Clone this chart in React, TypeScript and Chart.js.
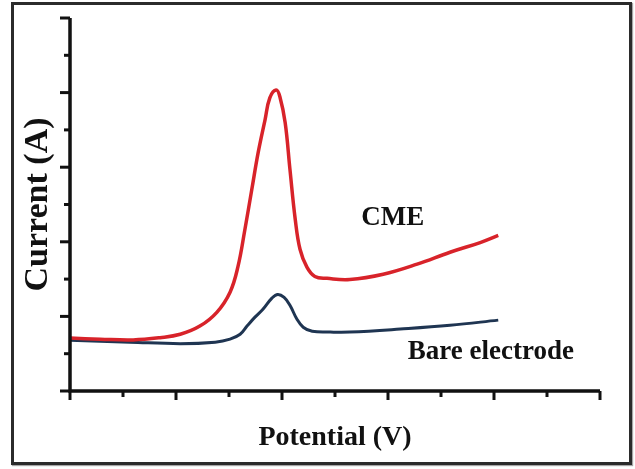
import React, { useEffect, useRef } from 'react';
import { Chart, registerables } from 'chart.js';

Chart.register(...registerables);

// Potential (x, arbitrary units 0..10) and current (y, arbitrary units 0..10)
const potentialCME = [0, 0.57, 1.19, 1.7, 2.08, 2.45, 2.77, 3.02, 3.17, 3.3, 3.43, 3.55, 3.68, 3.77, 3.89, 3.96, 4.06, 4.15, 4.25, 4.34, 4.47, 4.62, 4.85, 5.28, 5.91, 6.55, 7.17, 7.74, 8.08];
const currentCME = [1.42, 1.39, 1.37, 1.43, 1.52, 1.74, 2.11, 2.65, 3.34, 4.33, 5.4, 6.39, 7.27, 7.86, 8.07, 7.89, 7.19, 5.94, 4.6, 3.8, 3.32, 3.07, 3.02, 2.99, 3.13, 3.4, 3.72, 3.98, 4.17];

const potentialBare = [0, 1.13, 2.08, 2.74, 3.02, 3.21, 3.34, 3.49, 3.64, 3.81, 3.92, 4.04, 4.15, 4.28, 4.4, 4.57, 4.91, 5.28, 6.23, 7.17, 8.08];
const currentBare = [1.36, 1.31, 1.27, 1.31, 1.39, 1.52, 1.74, 1.98, 2.19, 2.49, 2.59, 2.51, 2.3, 1.93, 1.71, 1.6, 1.58, 1.58, 1.66, 1.76, 1.9];

const xTicks = [0, 1, 2, 3, 4, 5, 6, 7, 8, 9, 10];
const yTicks = [0, 1, 2, 3, 4, 5, 6, 7, 8, 9, 10];

const labelTexts = ['CME', 'Bare electrode'];
const labelX = [6.09, 7.94];
const labelY = [4.65, 1.04];

const SERIF = '"Liberation Serif", "Times New Roman", serif';

const axesPlugin = {
  id: 'axesAndLabels',
  afterDatasetsDraw(chart: any) {
    const { ctx, chartArea, scales } = chart;
    const x = scales.x;
    const y = scales.y;
    ctx.save();
    ctx.strokeStyle = '#111';
    ctx.lineCap = 'butt';
    ctx.lineWidth = 3.5;
    ctx.beginPath();
    ctx.moveTo(chartArea.left, chartArea.top);
    ctx.lineTo(chartArea.left, chartArea.bottom);
    ctx.lineTo(chartArea.right, chartArea.bottom);
    ctx.stroke();
    ctx.lineWidth = 3;
    yTicks.forEach((v) => {
      const py = y.getPixelForValue(v);
      const len = v % 2 === 0 ? 10 : 6;
      ctx.beginPath();
      ctx.moveTo(chartArea.left, py);
      ctx.lineTo(chartArea.left - len, py);
      ctx.stroke();
    });
    xTicks.forEach((v) => {
      const px = x.getPixelForValue(v);
      const len = v % 2 === 0 ? 9 : 6;
      ctx.beginPath();
      ctx.moveTo(px, chartArea.bottom);
      ctx.lineTo(px, chartArea.bottom + len);
      ctx.stroke();
    });
    ctx.fillStyle = '#111';
    ctx.font = `bold 27px ${SERIF}`;
    ctx.textAlign = 'center';
    ctx.textBaseline = 'middle';
    labelTexts.forEach((t, i) => {
      ctx.fillText(t, x.getPixelForValue(labelX[i]), y.getPixelForValue(labelY[i]));
    });
    ctx.restore();
  },
};

export default function App() {
  const ref = useRef<HTMLCanvasElement>(null);
  useEffect(() => {
    if (!ref.current) return;
    const chart = new Chart(ref.current, {
      type: 'line',
      data: {
        datasets: [
          {
            label: 'CME',
            data: potentialCME.map((p, i) => ({ x: p, y: currentCME[i] })),
            borderColor: '#d8232a',
            borderWidth: 3.5,
            pointRadius: 0,
            tension: 0.4,
            fill: false,
          },
          {
            label: 'Bare electrode',
            data: potentialBare.map((p, i) => ({ x: p, y: currentBare[i] })),
            borderColor: '#1f3552',
            borderWidth: 3,
            pointRadius: 0,
            tension: 0.4,
            fill: false,
          },
        ],
      },
      options: {
        animation: false,
        responsive: true,
        maintainAspectRatio: false,
        layout: { padding: { left: 0, right: 35, top: 18, bottom: 0 } },
        plugins: { legend: { display: false }, tooltip: { enabled: false } },
        scales: {
          x: {
            type: 'linear',
            min: 0,
            max: 10,
            grid: { display: false },
            border: { display: false },
            ticks: { display: false, stepSize: 1 },
            afterFit: (s: any) => { s.height = 78; },
            title: {
              display: true,
              text: 'Potential (V)',
              color: '#111',
              font: { family: SERIF, size: 28, weight: 'bold' },
              padding: { top: 0, bottom: 14 },
            },
          },
          y: {
            type: 'linear',
            min: 0,
            max: 10,
            grid: { display: false },
            border: { display: false },
            ticks: { display: false, stepSize: 1 },
            afterFit: (s: any) => { s.width = 70; },
            title: {
              display: true,
              text: 'Current (A)',
              color: '#111',
              font: { family: SERIF, size: 34, weight: 'bold' },
              padding: { top: 18, bottom: 0 },
            },
          },
        },
      },
      plugins: [axesPlugin],
    });
    return () => chart.destroy();
  }, []);

  return (
    <div style={{ position: 'absolute', left: 0, top: 0, width: 635, height: 469, background: '#fff' }}>
      <div
        style={{
          position: 'absolute',
          left: 11,
          top: 2,
          width: 615,
          height: 457,
          border: '3px solid #2b2b2b',
          boxShadow: '1px 1px 1px rgba(0,0,0,0.35)',
        }}
      />
      <div style={{ position: 'absolute', left: 0, top: 0, width: 635, height: 469 }}>
        <canvas ref={ref} />
      </div>
    </div>
  );
}
